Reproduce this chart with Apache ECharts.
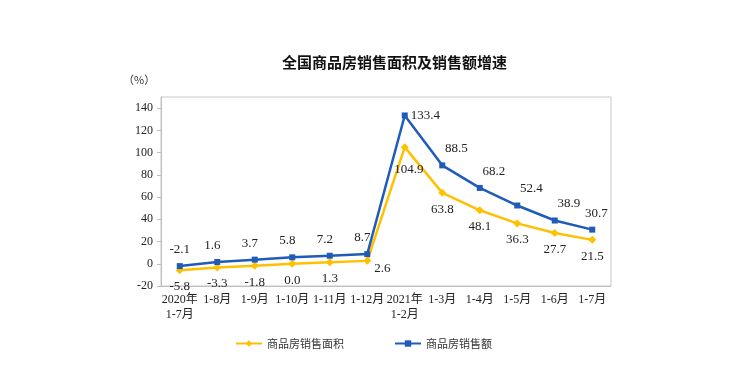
<!DOCTYPE html>
<html><head><meta charset="utf-8">
<script src="https://cdn.jsdelivr.net/npm/echarts@6/dist/echarts.min.js"></script>
<style>html,body{margin:0;padding:0;background:#fff}#c{width:741px;height:382px}</style>
</head><body><div id="c"></div>
<script>
const categories = ['2020年\n1-7月','1-8月','1-9月','1-10月','1-11月','1-12月','2021年\n1-2月','1-3月','1-4月','1-5月','1-6月','1-7月'];
const areaGrowth = [-5.8,-3.3,-1.8,0.0,1.3,2.6,104.9,63.8,48.1,36.3,27.7,21.5];
const salesGrowth = [-2.1,1.6,3.7,5.8,7.2,8.7,133.4,88.5,68.2,52.4,38.9,30.7];
const yTicks = {min:-20, max:150, interval:20};

const serif = '"Liberation Serif","Times New Roman","Noto Sans CJK SC",serif';
const labelColor = '#222';

function areaData(){
  return areaGrowth.map((v,i)=>{
    const lab = {position:'bottom', distance:6};
    if(i===5){ lab.position='right'; lab.offset=[0,8]; lab.distance=3; }
    if(i===6){ lab.offset=[4,6]; }
    return {value:v, label:lab};
  });
}
function salesData(){
  return salesGrowth.map((v,i)=>{
    const lab = {position:'top', distance:7};
    if(i===6){ lab.position='right'; lab.distance=3; }
    if(i>6){ lab.offset=[14,0]; }
    if(i===11){ lab.offset=[4,0]; }
    if(i>0 && i<6){ lab.offset=[-5,0]; }
    return {value:v, label:lab};
  });
}

const chart = echarts.init(document.getElementById('c'));
chart.setOption({
  animation:false,
  title:[
    {text:'全国商品房销售面积及销售额增速', left:277, top:50, textStyle:{fontFamily:'"Noto Sans CJK SC",sans-serif', fontSize:15, fontWeight:'bold', color:'#111'}},
    {text:'（%）', left:118, top:69, textStyle:{fontFamily:'"Noto Sans CJK SC",sans-serif', fontSize:11, fontWeight:'normal', color:'#333'}}
  ],
  legend:{
    top:333, left:230, itemGap:50, itemWidth:26, itemHeight:8,
    textStyle:{fontFamily:'"Noto Sans CJK SC",sans-serif', fontSize:11, color:'#333'},
    data:['商品房销售面积','商品房销售额']
  },
  grid:{left:161, right:130, top:97, bottom:96, show:true, borderColor:'#c8c8c8', borderWidth:1},
  xAxis:{
    type:'category', data:categories, boundaryGap:true,
    axisLine:{onZero:false, lineStyle:{color:'#bfbfbf'}},
    axisTick:{inside:true, length:4, lineStyle:{color:'#bfbfbf'}},
    axisLabel:{fontFamily:serif, fontSize:12, color:labelColor, interval:0, lineHeight:15, margin:6}
  },
  yAxis:{
    type:'value', min:yTicks.min, max:yTicks.max, interval:yTicks.interval,
    splitLine:{show:false},
    axisLine:{show:true, lineStyle:{color:'#bfbfbf'}},
    axisTick:{show:true, length:4, lineStyle:{color:'#bfbfbf'}},
    axisLabel:{fontFamily:serif, fontSize:12, color:labelColor, showMaxLabel:false, margin:8}
  },
  series:[
    {name:'商品房销售面积', type:'line', data:areaData(), symbol:'diamond', symbolSize:8,
     itemStyle:{color:'#FFC000'}, lineStyle:{width:2.5, color:'#FFC000'},
     label:{show:true, fontFamily:serif, fontSize:13, color:labelColor, formatter:p=>p.value.toFixed(1)}, z:2},
    {name:'商品房销售额', type:'line', data:salesData(), symbol:'rect', symbolSize:6,
     itemStyle:{color:'#1F5CB8'}, lineStyle:{width:2.5, color:'#1F5CB8'},
     label:{show:true, fontFamily:serif, fontSize:13, color:labelColor, formatter:p=>p.value.toFixed(1)}, z:3}
  ]
});
</script></body></html>
